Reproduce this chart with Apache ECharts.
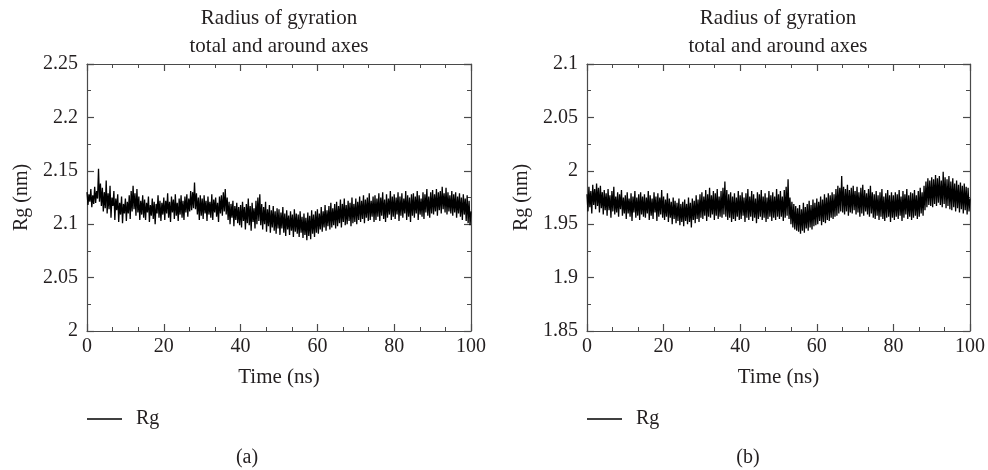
<!DOCTYPE html>
<html>
<head>
<meta charset="utf-8">
<script src="https://cdn.jsdelivr.net/npm/echarts@6/dist/echarts.min.js"></script>
<style>html,body{margin:0;padding:0;background:#fff}#c{width:988px;height:470px}</style>
</head>
<body>
<div id="c"></div>
<script>
// Sampling step of the trajectory (ns)
const TIME_STEP = 0.25;
const xTicks = [0, 20, 40, 60, 80, 100];
const yTicksA = [2, 2.05, 2.1, 2.15, 2.2, 2.25];
const yTicksB = [1.85, 1.9, 1.95, 2, 2.05, 2.1];
const titleText = ['Radius of gyration', 'total and around axes'];
const xName = 'Time (ns)';
const yName = 'Rg (nm)';
const seriesName = 'Rg';
const captions = ['(a)', '(b)'];

// Panel (a): Rg (nm), every 0.25 ns from 0 to 100 ns
const rgA = [
2.130,2.118,2.128,2.121,2.133,2.116,2.127,2.119,2.135,2.120,2.131,2.124,2.152,2.121,2.138,2.117,2.134,2.112,2.130,2.115,
2.141,2.110,2.129,2.114,2.136,2.106,2.125,2.117,2.131,2.104,2.124,2.113,2.128,2.102,2.120,2.109,2.126,2.101,2.119,2.110,
2.124,2.103,2.121,2.110,2.127,2.105,2.131,2.112,2.136,2.114,2.129,2.108,2.133,2.111,2.126,2.104,2.122,2.109,2.127,2.106,
2.123,2.104,2.120,2.111,2.126,2.102,2.118,2.108,2.124,2.105,2.121,2.100,2.119,2.110,2.127,2.106,2.122,2.103,2.120,2.109,
2.125,2.104,2.122,2.110,2.129,2.106,2.121,2.102,2.126,2.111,2.123,2.105,2.128,2.108,2.120,2.103,2.124,2.109,2.127,2.106,
2.122,2.104,2.126,2.111,2.128,2.107,2.124,2.112,2.131,2.113,2.130,2.115,2.139,2.114,2.129,2.109,2.125,2.104,2.127,2.108,
2.124,2.105,2.127,2.110,2.122,2.103,2.126,2.109,2.121,2.106,2.128,2.104,2.123,2.111,2.125,2.107,2.120,2.102,2.126,2.110,
2.127,2.108,2.130,2.112,2.133,2.109,2.125,2.104,2.121,2.100,2.119,2.106,2.122,2.098,2.117,2.104,2.120,2.101,2.116,2.099,
2.118,2.097,2.121,2.103,2.116,2.095,2.119,2.101,2.124,2.099,2.117,2.094,2.120,2.102,2.115,2.096,2.122,2.100,2.125,2.103,
2.128,2.099,2.119,2.095,2.116,2.100,2.121,2.093,2.114,2.098,2.118,2.092,2.113,2.097,2.117,2.094,2.112,2.091,2.115,2.096,
2.114,2.090,2.111,2.096,2.116,2.092,2.110,2.089,2.113,2.095,2.108,2.090,2.112,2.094,2.109,2.088,2.114,2.093,2.110,2.091,
2.109,2.088,2.112,2.092,2.107,2.087,2.110,2.090,2.106,2.085,2.111,2.089,2.108,2.086,2.113,2.091,2.109,2.088,2.112,2.092,
2.114,2.091,2.110,2.095,2.116,2.093,2.112,2.097,2.118,2.094,2.113,2.098,2.117,2.095,2.120,2.097,2.115,2.099,2.119,2.096,
2.121,2.098,2.117,2.101,2.123,2.097,2.119,2.102,2.124,2.099,2.118,2.100,2.122,2.103,2.120,2.098,2.125,2.101,2.119,2.102,
2.124,2.100,2.121,2.104,2.126,2.102,2.122,2.105,2.127,2.101,2.123,2.106,2.125,2.103,2.129,2.104,2.122,2.107,2.126,2.102,
2.127,2.104,2.124,2.107,2.129,2.103,2.125,2.108,2.130,2.105,2.123,2.102,2.128,2.106,2.124,2.109,2.131,2.104,2.126,2.107,
2.128,2.105,2.125,2.109,2.130,2.103,2.126,2.108,2.129,2.106,2.124,2.110,2.131,2.104,2.127,2.107,2.125,2.102,2.128,2.108,
2.129,2.106,2.126,2.110,2.131,2.104,2.127,2.109,2.124,2.107,2.130,2.105,2.128,2.111,2.133,2.108,2.126,2.106,2.130,2.110,
2.132,2.109,2.128,2.112,2.133,2.108,2.130,2.113,2.131,2.110,2.135,2.114,2.129,2.111,2.134,2.109,2.130,2.112,2.127,2.110,
2.131,2.108,2.128,2.111,2.130,2.106,2.126,2.110,2.129,2.107,2.125,2.104,2.128,2.109,2.124,2.103,2.127,2.101,2.122,2.099,
2.112
];

// Panel (b): Rg (nm), every 0.25 ns from 0 to 100 ns
const rgB = [
1.978,1.962,1.985,1.966,1.981,1.960,1.987,1.968,1.983,1.964,1.988,1.967,1.984,1.961,1.986,1.965,1.980,1.959,1.982,1.963,
1.979,1.958,1.983,1.963,1.977,1.956,1.981,1.962,1.985,1.959,1.976,1.961,1.980,1.957,1.978,1.964,1.982,1.958,1.975,1.960,
1.977,1.955,1.980,1.960,1.974,1.957,1.979,1.953,1.976,1.961,1.981,1.956,1.975,1.958,1.978,1.954,1.980,1.959,1.976,1.957,
1.978,1.956,1.975,1.960,1.981,1.954,1.977,1.958,1.974,1.955,1.980,1.961,1.976,1.953,1.979,1.957,1.975,1.959,1.982,1.956,
1.976,1.954,1.973,1.957,1.979,1.952,1.974,1.956,1.971,1.950,1.975,1.955,1.972,1.951,1.970,1.953,1.974,1.949,1.969,1.952,
1.971,1.948,1.973,1.953,1.969,1.950,1.975,1.952,1.970,1.947,1.974,1.954,1.972,1.951,1.977,1.955,1.973,1.952,1.978,1.956,
1.980,1.955,1.976,1.958,1.982,1.953,1.978,1.957,1.984,1.956,1.977,1.959,1.981,1.954,1.979,1.958,1.983,1.955,1.976,1.957,
1.981,1.956,1.984,1.959,1.990,1.957,1.982,1.954,1.978,1.956,1.980,1.952,1.976,1.955,1.979,1.953,1.975,1.957,1.981,1.954,
1.977,1.955,1.980,1.958,1.975,1.952,1.979,1.956,1.983,1.954,1.976,1.957,1.981,1.953,1.978,1.956,1.974,1.951,1.980,1.955,
1.978,1.957,1.982,1.954,1.976,1.956,1.979,1.952,1.975,1.955,1.981,1.957,1.977,1.953,1.980,1.956,1.976,1.954,1.983,1.957,
1.978,1.955,1.981,1.957,1.976,1.953,1.982,1.956,1.985,1.958,1.992,1.955,1.975,1.950,1.971,1.947,1.969,1.945,1.967,1.944,
1.965,1.943,1.968,1.941,1.964,1.944,1.970,1.942,1.966,1.946,1.969,1.944,1.972,1.947,1.968,1.945,1.973,1.948,1.970,1.949,
1.974,1.950,1.971,1.953,1.976,1.949,1.973,1.952,1.978,1.951,1.975,1.954,1.979,1.953,1.977,1.956,1.980,1.955,1.978,1.957,
1.983,1.958,1.986,1.960,1.984,1.962,1.995,1.961,1.985,1.959,1.983,1.962,1.987,1.958,1.982,1.961,1.984,1.960,1.986,1.963,
1.981,1.959,1.985,1.961,1.980,1.957,1.984,1.960,1.987,1.958,1.982,1.962,1.979,1.959,1.983,1.957,1.986,1.960,1.980,1.956,
1.978,1.955,1.981,1.958,1.977,1.954,1.980,1.957,1.983,1.955,1.976,1.953,1.979,1.956,1.982,1.957,1.977,1.952,1.980,1.956,
1.977,1.954,1.980,1.957,1.978,1.955,1.982,1.958,1.976,1.953,1.981,1.956,1.978,1.959,1.983,1.955,1.977,1.957,1.980,1.954,
1.979,1.956,1.982,1.958,1.977,1.955,1.981,1.957,1.984,1.960,1.980,1.958,1.986,1.963,1.990,1.966,1.993,1.968,1.991,1.967,
1.994,1.966,1.992,1.969,1.996,1.967,1.993,1.970,1.995,1.968,1.991,1.966,1.999,1.969,1.994,1.965,1.992,1.967,1.995,1.964,
1.990,1.963,1.993,1.966,1.988,1.962,1.991,1.965,1.987,1.961,1.989,1.964,1.986,1.960,1.988,1.963,1.985,1.959,1.984,1.962,
1.974
];

const FONT = '"Liberation Serif", "DejaVu Serif", serif';
const TXT = '#231f20';
const AXC = '#4a4a4a';

function pairs(vals) { return vals.map((v, i) => [i * TIME_STEP, v]); }

const grids = [
  { left: 87, top: 64, width: 384, height: 267 },
  { left: 587, top: 64, width: 383, height: 267 }
];

const axisLineCfg = { show: true, onZero: false, lineStyle: { color: AXC, width: 1.2 } };
const tickCfg = { show: true, inside: true, length: 7, lineStyle: { color: AXC, width: 1.2 } };

function xAxes(gi) {
  const mk = (extra) => Object.assign({
    type: 'value', gridIndex: gi, min: xTicks[0], max: xTicks[xTicks.length - 1],
    interval: xTicks[1] - xTicks[0],
    axisLine: axisLineCfg,
    axisTick: tickCfg,
    minorTick: { show: true, splitNumber: 3, length: 4, lineStyle: { color: AXC, width: 1 } },
    splitLine: { show: false }, minorSplitLine: { show: false }
  }, extra);
  return [
    mk({
      position: 'bottom',
      axisLabel: { show: true, color: TXT, fontFamily: FONT, fontSize: 20, margin: 6 },
      name: xName, nameLocation: 'middle', nameGap: 36,
      nameTextStyle: { color: TXT, fontFamily: FONT, fontSize: 21 }
    }),
    mk({ position: 'top', axisLabel: { show: false } })
  ];
}

function yAxes(gi, ticks) {
  const mk = (extra) => Object.assign({
    type: 'value', gridIndex: gi, min: ticks[0], max: ticks[ticks.length - 1],
    interval: ticks[1] - ticks[0],
    axisLine: axisLineCfg,
    axisTick: tickCfg,
    minorTick: { show: true, splitNumber: 2, length: 4, lineStyle: { color: AXC, width: 1 } },
    splitLine: { show: false }, minorSplitLine: { show: false }
  }, extra);
  return [
    mk({
      position: 'left',
      axisLabel: { show: true, color: TXT, fontFamily: FONT, fontSize: 20, margin: 9,
        formatter: v => String(parseFloat(v.toFixed(3))) },
      name: yName, nameLocation: 'middle', nameGap: 55,
      nameTextStyle: { color: TXT, fontFamily: FONT, fontSize: 20 }
    }),
    mk({ position: 'right', axisLabel: { show: false } })
  ];
}

const xA = xAxes(0), xB = xAxes(1);
const yA = yAxes(0, yTicksA), yB = yAxes(1, yTicksB);

function legendAt(left) {
  return {
    left: left, top: 409, padding: 0, data: [seriesName], itemWidth: 35, itemHeight: 1.5,
    icon: 'rect', itemStyle: { color: '#000' },
    textStyle: { color: TXT, fontFamily: FONT, fontSize: 20, padding: [0, 0, 0, 9] },
    selectedMode: false
  };
}

const option = {
  animation: false,
  backgroundColor: '#fff',
  grid: grids,
  xAxis: [xA[0], xA[1], xB[0], xB[1]],
  yAxis: [yA[0], yA[1], yB[0], yB[1]],
  legend: [legendAt(87), legendAt(587)],
  graphic: [
    { type: 'text', x: 279, y: 4, style: { text: titleText.join('\n'), fill: TXT,
      font: '21px ' + FONT, lineHeight: 28, align: 'center', verticalAlign: 'top' }, z: 10 },
    { type: 'text', x: 778, y: 4, style: { text: titleText.join('\n'), fill: TXT,
      font: '21px ' + FONT, lineHeight: 28, align: 'center', verticalAlign: 'top' }, z: 10 },
    { type: 'text', x: 247, y: 448, style: { text: captions[0], fill: TXT, font: '20px ' + FONT, align: 'center' } },
    { type: 'text', x: 748, y: 448, style: { text: captions[1], fill: TXT, font: '20px ' + FONT, align: 'center' } }
  ],
  series: [
    { name: seriesName, type: 'line', xAxisIndex: 0, yAxisIndex: 0, data: pairs(rgA),
      symbol: 'none', lineStyle: { color: '#000', width: 1.3 }, itemStyle: { color: '#000' } },
    { name: seriesName, type: 'line', xAxisIndex: 2, yAxisIndex: 2, data: pairs(rgB),
      symbol: 'none', lineStyle: { color: '#000', width: 1.3 }, itemStyle: { color: '#000' } }
  ]
};

const chart = echarts.init(document.getElementById('c'), null, { renderer: 'canvas' });
chart.setOption(option);
</script>
</body>
</html>
